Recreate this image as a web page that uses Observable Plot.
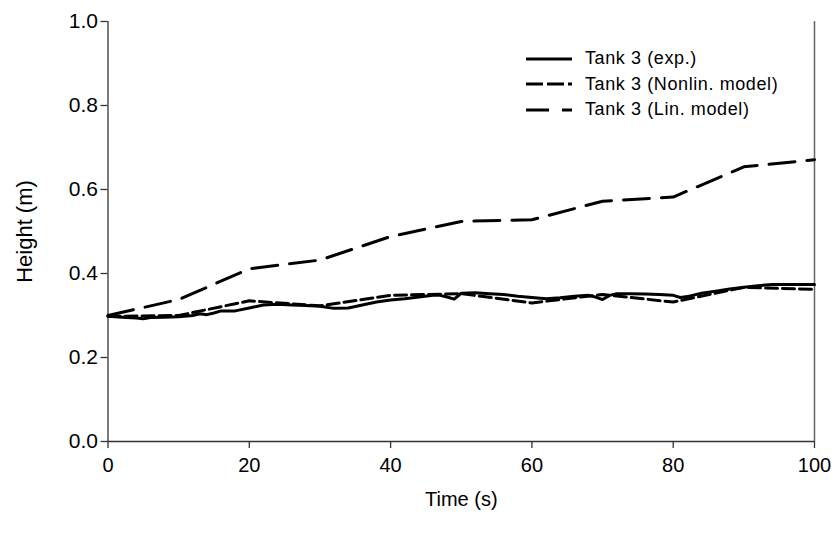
<!DOCTYPE html>
<html>
<head>
<meta charset="utf-8">
<script src="https://cdn.jsdelivr.net/npm/d3@7"></script>
<script src="https://cdn.jsdelivr.net/npm/@observablehq/plot@0.6"></script>
<style>
  html, body { margin: 0; padding: 0; background: #fff; }
  #wrap { position: relative; width: 840px; height: 539px; font-family: "Liberation Sans", Arial, sans-serif; }
  #legend { position: absolute; left: 526px; top: 46px; font-size: 18px; color: #000; letter-spacing: 0.6px; }
  #legend .row { display: flex; align-items: center; height: 25.5px; }
  #legend svg { width: 46px; height: 10px; margin-right: 13px; }
  svg text { fill: #000; }
  g[aria-label="y-axis tick label"] text { font-size: 21px; }
  g[aria-label="x-axis tick label"] text { font-size: 20px; }
  g[aria-label="y-axis label"] text { font-size: 22px; }
  g[aria-label="x-axis label"] text { font-size: 20px; }
</style>
</head>
<body>
<div id="wrap"></div>
<script>
// Tank 3 experimental
const expTime = [0, 2, 4, 5, 6, 8, 10, 12, 13, 14, 15, 16, 18, 20, 22, 24, 26, 28, 30, 32, 34, 36, 38, 40, 42, 44, 46, 47, 48, 49, 50, 52, 54, 56, 58, 60, 62, 64, 66, 68, 69, 70, 71, 72, 74, 76, 78, 80, 81, 82, 84, 86, 88, 90, 92, 94, 96, 98, 100];
const expHeight = [0.298, 0.296, 0.294, 0.292, 0.295, 0.296, 0.297, 0.300, 0.304, 0.302, 0.306, 0.311, 0.311, 0.318, 0.325, 0.327, 0.325, 0.324, 0.322, 0.317, 0.318, 0.325, 0.332, 0.337, 0.340, 0.344, 0.348, 0.348, 0.344, 0.339, 0.353, 0.354, 0.352, 0.350, 0.346, 0.343, 0.340, 0.342, 0.346, 0.348, 0.344, 0.338, 0.348, 0.352, 0.352, 0.351, 0.350, 0.348, 0.343, 0.345, 0.353, 0.358, 0.363, 0.367, 0.371, 0.374, 0.374, 0.374, 0.374];
// Tank 3 nonlinear model
const nonlinTime = [0, 10, 20, 30, 40, 50, 60, 70, 80, 90, 100];
const nonlinHeight = [0.298, 0.300, 0.335, 0.323, 0.348, 0.352, 0.330, 0.350, 0.332, 0.367, 0.362];
// Tank 3 linear model
const linTime = [0, 10, 20, 30, 40, 50, 60, 70, 80, 90, 100];
const linHeight = [0.300, 0.338, 0.411, 0.432, 0.488, 0.524, 0.528, 0.572, 0.582, 0.654, 0.671];

const seriesNames = ["Tank 3 (exp.)", "Tank 3 (Nonlin. model)", "Tank 3 (Lin. model)"];
const dashes = [null, "12,5", "26,12"];
const xTicks = [0, 20, 40, 60, 80, 100];
const yTicks = [0.0, 0.2, 0.4, 0.6, 0.8, 1.0];

const toRows = (ts, hs) => ts.map((t, i) => ({t, h: hs[i]}));
const series = [toRows(expTime, expHeight), toRows(nonlinTime, nonlinHeight), toRows(linTime, linHeight)];

const chart = Plot.plot({
  width: 840,
  height: 539,
  marginLeft: 107.5,
  marginRight: 26,
  marginTop: 21,
  marginBottom: 98,
  style: {fontFamily: "'Liberation Sans', Arial, sans-serif", fontSize: "20px", background: "#fff", color: "#000"},
  x: {domain: [0, 100]},
  y: {domain: [0, 1]},
  marks: [
    Plot.ruleX([100], {y1: 0, y2: 1, stroke: "#666", strokeWidth: 1.5}),
    Plot.axisX({ticks: xTicks, tickSize: 7, tickPadding: 9, fontSize: 20, stroke: "#333", strokeWidth: 1.3,
      label: "Time (s)", labelAnchor: "center", labelArrow: "none", labelOffset: 64, tickFormat: d3.format("d")}),
    Plot.axisY({ticks: yTicks, tickSize: 7, tickPadding: 3, fontSize: 21, stroke: "#333", strokeWidth: 1.3,
      label: "Height (m)", labelAnchor: "center", labelArrow: "none", labelOffset: 92, tickFormat: d3.format(".1f")}),
    Plot.ruleY([0], {stroke: "#333", strokeWidth: 1.3}),
    Plot.ruleX([0], {stroke: "#333", strokeWidth: 1.3}),
    ...series.map((rows, i) => Plot.line(rows, {x: "t", y: "h", stroke: "#000", strokeWidth: 3,
      strokeDasharray: dashes[i], strokeLinejoin: "round"}))
  ]
});

const wrap = document.getElementById("wrap");
wrap.appendChild(chart);

const legend = document.createElement("div");
legend.id = "legend";
seriesNames.forEach((name, i) => {
  const row = document.createElement("div");
  row.className = "row";
  row.innerHTML = `<svg viewBox="0 0 46 10"><line x1="0" y1="5" x2="46" y2="5" stroke="#000" stroke-width="2.8" ${dashes[i] ? `stroke-dasharray="${i === 1 ? "17,4" : "23,13"}"` : ""}/></svg><span>${name}</span>`;
  legend.appendChild(row);
});
wrap.appendChild(legend);
</script>
</body>
</html>
